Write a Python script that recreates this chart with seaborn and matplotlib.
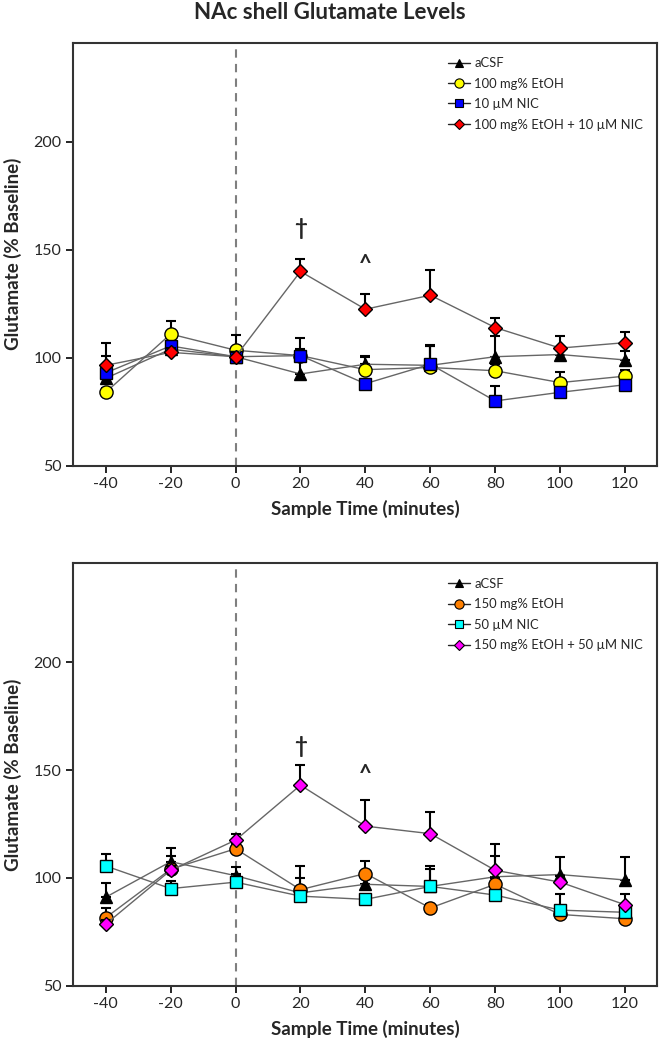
import numpy as np
import pandas as pd
import matplotlib
matplotlib.use('Agg')
import matplotlib.pyplot as plt
from matplotlib.lines import Line2D
import seaborn as sns

sns.set_style('ticks')
plt.rcParams['font.family'] = ['Lato', 'DejaVu Sans']
plt.rcParams['axes.unicode_minus'] = False

times = [-40, -20, 0, 20, 40, 60, 80, 100, 120]

# top panel
acsf_top = [90.5, 104, 100.5, 92.5, 97, 96.5, 100.5, 101.5, 99]
acsf_top_err = [2, 3, 4, 8, 4, 9, 9.5, 2, 4]
etoh100 = [84, 111, 103.5, 101, 94.5, 95.5, 94, 88.5, 91.5]
etoh100_err = [2, 6, 7, 3, 6, 10, 3, 5, 3]
nic10 = [93, 105.5, 100.5, 101, 88, 97, 80, 84, 87.5]
nic10_err = [8, 2, 2, 8, 2, 9, 7, 2, 2]
combo_top = [96.5, 102.5, 100.5, 140, 122.5, 129, 114, 104.5, 107]
combo_top_err = [10.5, 2, 2, 6, 7, 11.5, 4.5, 5.5, 5]

# bottom panel
acsf_bot = [91, 107.5, 101, 93, 97, 96, 100.5, 101.5, 99]
acsf_bot_err = [6.5, 6.5, 4, 7, 3, 8, 9.5, 8, 10.5]
etoh150 = [81.5, 104, 113.5, 94.5, 102, 86, 97, 83, 81]
etoh150_err = [4.5, 6, 2, 11, 6, 2, 3, 2, 2]
nic50 = [105.5, 95, 98, 91.5, 90, 96, 92, 85, 84]
nic50_err = [5.5, 3.5, 4, 2, 2, 9.5, 2, 7.5, 2]
combo_bot = [78.5, 103.5, 117.5, 143, 124, 120.5, 103.5, 98, 87.5]
combo_bot_err = [2, 2, 3, 9.5, 12, 10, 12, 3, 5]

top_labels = ['aCSF', '100 mg% EtOH', '10 µM NIC', '100 mg% EtOH + 10 µM NIC']
bot_labels = ['aCSF', '150 mg% EtOH', '50 µM NIC', '150 mg% EtOH + 50 µM NIC']

marks = {
    'top': [('^', 'black'), ('o', '#FFFF00'), ('s', '#0000FF'), ('D', '#FF0000')],
    'bot': [('^', 'black'), ('o', '#FF8000'), ('s', '#00FFFF'), ('D', '#FF00FF')],
}
msizes = {'^': 9, 'o': 9.5, 's': 9, 'D': 7.5}

fig = plt.figure(figsize=(6.59, 10.5), dpi=100)
ax1 = fig.add_axes([0.1112, 0.5565, 0.8865, 0.4028])
ax2 = fig.add_axes([0.1112, 0.0614, 0.8865, 0.4021])

panels = [
    (ax1, [acsf_top, etoh100, nic10, combo_top],
     [acsf_top_err, etoh100_err, nic10_err, combo_top_err], top_labels, marks['top'],
     [(20, 160, '†'), (40, 143, '^')]),
    (ax2, [acsf_bot, etoh150, nic50, combo_bot],
     [acsf_bot_err, etoh150_err, nic50_err, combo_bot_err], bot_labels, marks['bot'],
     [(20, 161, '†'), (40, 148, '^')]),
]

for ax, series, errs, labels, mk, notes in panels:
    ax.axvline(0, color='#7f7f7f', ls='--', lw=1.5, dashes=(4, 3), zorder=1)
    handles = []
    for i, (vals, err, lab, (m, c)) in enumerate(zip(series, errs, labels, mk)):
        df = pd.DataFrame({'time': times, 'glu': vals})
        ax.errorbar(times, vals, yerr=[np.zeros(len(err)), err], fmt='none',
                    ecolor='black', elinewidth=1.5, capsize=3.5, capthick=1.5,
                    zorder=2 + i * 2)
        sns.lineplot(data=df, x='time', y='glu', ax=ax, color='#666666', lw=1,
                     marker=m, markersize=msizes[m], markerfacecolor=c,
                     markeredgecolor='black', markeredgewidth=1,
                     zorder=3 + i * 2)
        handles.append(Line2D([], [], color='#222222', lw=1, marker=m,
                              markersize=msizes[m] * 0.7, markerfacecolor=c,
                              markeredgecolor='black', markeredgewidth=0.8, label=lab))
    for x, y, t in notes:
        ax.text(x, y, t, ha='center', va='center', fontsize=16, fontweight='bold')
    ax.set_xlim(-50, 130)
    ax.set_ylim(50, 246)
    ax.set_xticks(times)
    ax.set_yticks([50, 100, 150, 200])
    ax.tick_params(direction='out', length=5, width=1.2, labelsize=11.5, color='black')
    for s in ax.spines.values():
        s.set_linewidth(1.5)
        s.set_color('#333333')
    ax.set_xlabel('Sample Time (minutes)', fontsize=13.5, fontweight='bold', labelpad=6)
    ax.set_ylabel('Glutamate (% Baseline)', fontsize=13.5, fontweight='bold', labelpad=8)
    ax.legend(handles=handles, loc='upper right', bbox_to_anchor=(1.0, 1.0),
              frameon=False, fontsize=9.4, handlelength=1.7, handletextpad=0.3,
              labelspacing=0.65, borderaxespad=0.7)

fig.text(0.5, 0.988, 'NAc shell Glutamate Levels', ha='center', va='center',
         fontsize=16, fontweight='bold')

fig.savefig('out.png', dpi=100)
